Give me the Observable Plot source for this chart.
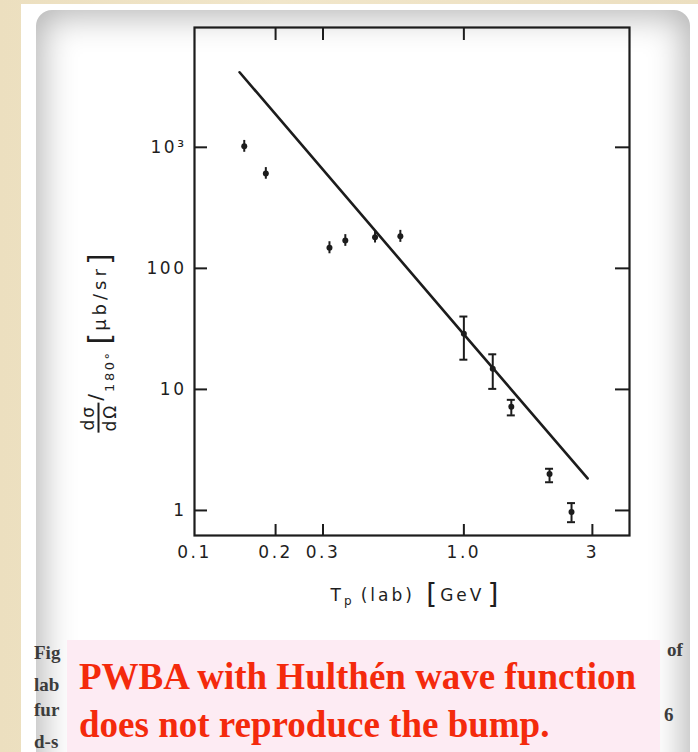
<!DOCTYPE html>
<html>
<head>
<meta charset="utf-8">
<script src="https://cdn.jsdelivr.net/npm/d3@7"></script>
<script src="https://cdn.jsdelivr.net/npm/@observablehq/plot@0.6"></script>
<style>
  html, body { margin: 0; padding: 0; }
  body { width: 698px; height: 752px; overflow: hidden; position: relative;
         background: linear-gradient(90deg, #ecdfbf, #f1e6ca 40%, #ecdfc0); font-family: "DejaVu Sans", sans-serif; }
  #sheet { position: absolute; left: 21px; top: 4px; width: 677px; height: 760px; background: #fff; }
  #paper { position: absolute; left: 36px; top: 10px; width: 654px; height: 790px; background: #fff;
           border-radius: 16px; box-shadow: inset 0 0 34px 6px rgba(0,0,0,0.30); }
  #chart { position: absolute; left: 0; top: 0; }
  #chart svg text { letter-spacing: 2.5px; fill: #1e1e1e; }
  .lbl { position: absolute; color: #1e1e1e; white-space: nowrap; font-family: "DejaVu Sans", sans-serif; }
  #ylab { left: 99px; top: 343px; transform: translate(-50%, -50%) rotate(-90deg);
          display: flex; align-items: center; font-size: 17px; letter-spacing: 2px; }
  #ylab .frac { display: inline-flex; flex-direction: column; align-items: center; line-height: 15px; margin-right: 2px; }
  #ylab .frac .bar { width: 30px; height: 2px; background: #1e1e1e; margin: 2px 0 3px 0; }
  #ylab .slash { font-size: 20px; margin: -10px 0 0 0; }
  #ylab .sub { font-size: 13px; position: relative; top: 10px; margin-right: 6px; letter-spacing: 2.5px; }
  #ylab .unit { font-size: 18px; letter-spacing: 4px; margin-left: 2px; }
  #ylab .br { font-size: 30px; letter-spacing: 0; }
  #xlab { left: 416px; top: 594px; transform: translate(-50%, -50%); font-size: 17px; letter-spacing: 3px;
          display: flex; align-items: center; }
  #xlab .sub { font-size: 12px; position: relative; top: 6px; margin-right: 6px; }
  #xlab .br { font-size: 28px; letter-spacing: 0; margin: 0 3px; }
  .cap { position: absolute; font-family: "Liberation Serif", serif; font-weight: bold; font-size: 19px; color: #3c3c3c; }
  #note { position: absolute; left: 67px; top: 640px; width: 593px; height: 120px; background: #fdebf3; }
  #note div { position: absolute; left: 12px; font-family: "Liberation Serif", serif; font-weight: bold;
              font-size: 37px; color: #f42a0c; white-space: nowrap; }
</style>
</head>
<body>
<div id="sheet"></div>
<div id="paper"></div>
<div id="chart"></div>

<div class="lbl" id="ylab">
  <span class="frac"><span>dσ</span><span class="bar"></span><span>dΩ</span></span>
  <span class="slash">/</span>
  <span class="sub">180°</span>
  <span class="br">[</span><span class="unit">μb/sr</span><span class="br">]</span>
</div>
<div class="lbl" id="xlab">
  <span>T</span><span class="sub">p</span><span>(lab)</span>&nbsp;<span class="br">[</span><span>GeV</span><span class="br">]</span>
</div>

<div class="cap" style="left:34px; top:642px;">Fig</div>
<div class="cap" style="left:34px; top:674px;">lab</div>
<div class="cap" style="left:34px; top:699px;">fur</div>
<div class="cap" style="left:34px; top:731px;">d-s</div>
<div class="cap" style="left:667px; top:639px;">of</div>
<div class="cap" style="left:664px; top:704px;">6</div>

<div id="note">
  <div style="top:15px;">PWBA with Hulthén wave function</div>
  <div style="top:63px;">does not reproduce the bump.</div>
</div>

<script>
// ---- data ----
const energies  = [0.153, 0.184, 0.317, 0.363, 0.468, 0.581, 1.00, 1.28, 1.50, 2.08, 2.51];   // T_p (GeV)
const xsec      = [1020, 607, 148, 170, 181, 184, 28.8, 14.8, 7.2, 2.0, 0.97];                // μb/sr
const errLow    = [910, 545, 132, 152, 162, 164, 17.6, 10.1, 6.1, 1.71, 0.80];
const errHigh   = [1140, 680, 166, 190, 203, 206, 40, 19.5, 8.2, 2.21, 1.15];
const capped    = [false, false, false, false, false, false, true, true, true, true, true];

const theoryT     = [0.147, 1.00, 2.88];
const theorySigma = [4170, 28.5, 1.84];

const xTickValues    = [0.1, 0.2, 0.3, 1, 3];
const xTickLabels    = ["0.1", "0.2", "0.3", "1.0", "3"];
const xTopTickValues = [0.2, 0.3, 1];
const yTickValues    = [1, 10, 100, 1000];
const yTickLabels    = ["1", "10", "100", "10³"];

// ---- chart ----
const W = 698, H = 620;
const mL = 194, mR = 69, mT = 27, mB = 85;
const xDomain = [0.1, 4.12];
const yDomain = [0.621, 9770];
const pxPerDecX = (W - mL - mR) / Math.log10(xDomain[1] / xDomain[0]);
const pxPerDecY = (H - mT - mB) / Math.log10(yDomain[1] / yDomain[0]);
const fx = px => Math.pow(10, px / pxPerDecX);   // multiplicative factor for a pixel offset on x
const fy = px => Math.pow(10, px / pxPerDecY);

const points = energies.map((t, i) => ({t, s: xsec[i], lo: errLow[i], hi: errHigh[i], cap: capped[i]}));
const theory = theoryT.map((t, i) => ({t, s: theorySigma[i]}));
const capPts = points.filter(d => d.cap);
const ink = "#1c1c1c";

const chart = Plot.plot({
  width: W, height: H,
  marginLeft: mL, marginRight: mR, marginTop: mT, marginBottom: mB,
  x: {type: "log", domain: xDomain},
  y: {type: "log", domain: yDomain},
  style: {background: "transparent", fontFamily: "DejaVu Sans", color: ink},
  marks: [
    // inward ticks
    Plot.ruleX(xTickValues.filter(v => v > xDomain[0]), {x: d => d, y1: yDomain[0], y2: yDomain[0] * fy(11), stroke: ink, strokeWidth: 2}),
    Plot.ruleX(xTopTickValues, {x: d => d, y1: yDomain[1], y2: yDomain[1] / fy(13), stroke: ink, strokeWidth: 2}),
    Plot.ruleY(yTickValues, {y: d => d, x1: xDomain[0], x2: xDomain[0] * fx(13), stroke: ink, strokeWidth: 2}),
    Plot.ruleY(yTickValues, {y: d => d, x1: xDomain[1], x2: xDomain[1] / fx(14), stroke: ink, strokeWidth: 2}),
    Plot.frame({stroke: ink, strokeWidth: 2.2}),
    Plot.axisX({ticks: xTickValues, tickSize: 0, tickPadding: 10, fontSize: 17, label: null,
                tickFormat: d => xTickLabels[xTickValues.indexOf(d)]}),
    Plot.axisY({ticks: yTickValues, tickSize: 0, tickPadding: 8, fontSize: 17, label: null,
                tickFormat: d => yTickLabels[yTickValues.indexOf(d)]}),
    // theory curve
    Plot.line(theory, {x: "t", y: "s", stroke: ink, strokeWidth: 2.6}),
    // error bars
    Plot.ruleX(points, {x: "t", y1: "lo", y2: "hi", stroke: ink, strokeWidth: 2}),
    Plot.ruleY(capPts, {y: "hi", x1: d => d.t / fx(4), x2: d => d.t * fx(4), stroke: ink, strokeWidth: 2}),
    Plot.ruleY(capPts, {y: "lo", x1: d => d.t / fx(4), x2: d => d.t * fx(4), stroke: ink, strokeWidth: 2}),
    Plot.dot(points, {x: "t", y: "s", r: 3, fill: ink, stroke: null})
  ]
});
document.getElementById("chart").appendChild(chart);
</script>
</body>
</html>
